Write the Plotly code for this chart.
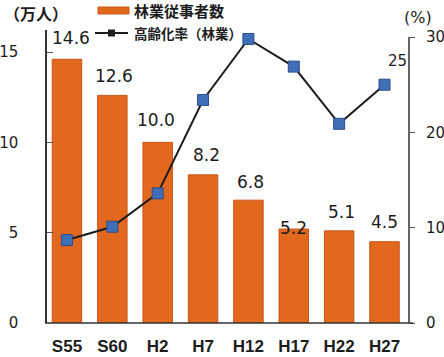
import plotly.graph_objects as go

# 林業従事者数（万人）と高齢化率（%）の推移
categories = ["S55", "S60", "H2", "H7", "H12", "H17", "H22", "H27"]
workers = [14.6, 12.6, 10.0, 8.2, 6.8, 5.2, 5.1, 4.5]          # 万人
worker_labels = ["14.6", "12.6", "10.0", "8.2", "6.8", "5.2", "5.1", "4.5"]
aging_rate = [8.7, 10.1, 13.6, 23.4, 29.8, 26.9, 20.9, 25.0]     # %
left_ticks = [0, 5, 10, 15]
right_ticks = [0, 10, 20, 30]

W, H = 444, 357
L, R, T, B = 47, 35, 30, 34
PW, PH = W - L - R, H - T - B


def px(x):
    return (x - L) / PW


def py(y):
    return (H - B - y) / PH


BAR = "#E2681E"
BLUE = "#3F6FB6"
INK = "#1c1c1c"
NUM_FONT = "DejaVu Sans"
JP_FONT = "Noto Sans CJK JP"

fig = go.Figure()
fig.add_trace(go.Bar(
    x=categories, y=workers, width=0.65,
    marker=dict(color=BAR, line=dict(color="#C9561A", width=1)),
    yaxis="y", showlegend=False, hoverinfo="skip",
))
fig.add_trace(go.Scatter(
    x=categories, y=aging_rate, yaxis="y2", mode="lines+markers",
    line=dict(color=INK, width=2),
    marker=dict(symbol="square", size=11, color=BLUE,
                line=dict(color="#2B4E8A", width=1)),
    showlegend=False, hoverinfo="skip",
))

# bar value labels
label_yshift = [21, 19, 22, 20, 18, 1, 19, 20]
label_xshift = [4, 2, -2, 3, 2, 0, 2, 0]
annotations = []
for cat, val, txt, dy, dx in zip(categories, workers, worker_labels, label_yshift, label_xshift):
    annotations.append(dict(
        x=cat, y=val, xref="x", yref="y", text=txt, showarrow=False,
        yanchor="middle", xanchor="center", yshift=dy, xshift=dx,
        font=dict(family=NUM_FONT, size=17, color=INK),
    ))

# last rate value label
annotations.append(dict(
    x=categories[-1], y=aging_rate[-1], xref="x", yref="y2",
    text=f"{aging_rate[-1]:.0f}", showarrow=False,
    xanchor="center", yanchor="middle", xshift=13, yshift=24,
    font=dict(family=NUM_FONT, size=15, color=INK),
))

# unit labels
annotations.append(dict(
    x=px(36), y=py(13), xref="paper", yref="paper", text="（万人）",
    showarrow=False, xanchor="center", yanchor="middle",
    font=dict(family=JP_FONT, size=16, color=INK, weight="bold"),
))
annotations.append(dict(
    x=px(418), y=py(17), xref="paper", yref="paper", text="(%)",
    showarrow=False, xanchor="center", yanchor="middle",
    font=dict(family=NUM_FONT, size=16, color=INK),
))

# legend entries
annotations.append(dict(
    x=px(132), y=py(11), xref="paper", yref="paper", text="林業従事者数",
    showarrow=False, xanchor="left", yanchor="middle",
    font=dict(family=JP_FONT, size=15, color=INK, weight="bold"),
))
annotations.append(dict(
    x=px(132), y=py(33), xref="paper", yref="paper", text="高齢化率（林業）",
    showarrow=False, xanchor="left", yanchor="middle",
    font=dict(family=JP_FONT, size=13.5, color=INK, weight="bold"),
))

shapes = [
    # legend swatch for bars
    dict(type="rect", xref="paper", yref="paper",
         x0=px(98), x1=px(129), y0=py(14), y1=py(7),
         fillcolor=BAR, line=dict(color="#C9561A", width=1)),
    # legend swatch for line
    dict(type="line", xref="paper", yref="paper",
         x0=px(95), x1=px(128), y0=py(33), y1=py(33),
         line=dict(color=INK, width=2)),
    dict(type="rect", xref="paper", yref="paper",
         x0=px(108), x1=px(115), y0=py(36.5), y1=py(29.5),
         fillcolor=INK, line=dict(color=INK, width=0)),
    # bottom axis line
    dict(type="line", xref="paper", yref="paper",
         x0=px(45), x1=px(413), y0=0, y1=0,
         line=dict(color="#333333", width=1.5)),
    # right axis line
    dict(type="line", xref="paper", yref="y2",
         x0=1, x1=1, y0=0, y1=30,
         line=dict(color="#333333", width=1.5)),
]

fig.update_layout(
    width=W, height=H,
    margin=dict(l=L, r=R, t=T, b=B, autoexpand=False),
    paper_bgcolor="white", plot_bgcolor="white",
    bargap=0.35,
    annotations=annotations, shapes=shapes,
    xaxis=dict(
        type="category", range=[-0.44, 7.54], automargin=False,
        showline=False, showgrid=False, zeroline=False, ticks="",
        tickfont=dict(family="Liberation Sans", size=17, color=INK, weight="bold"),
        ticklabelstandoff=11,
    ),
    yaxis=dict(
        range=[0, 16.22], tickvals=left_ticks, automargin=False,
        showline=True, linecolor="#333333", linewidth=1.5,
        ticks="inside", ticklen=6, tickcolor="#555555",
        showgrid=False, zeroline=False,
        tickfont=dict(family=NUM_FONT, size=15, color=INK),
        ticklabelstandoff=24,
    ),
    yaxis2=dict(
        range=[0, 30.74], tickvals=right_ticks, overlaying="y", side="right",
        automargin=False,
        showline=False, ticks="outside", ticklen=5, tickcolor="#555555",
        showgrid=False, zeroline=False,
        tickfont=dict(family=NUM_FONT, size=15, color=INK),
        ticklabelstandoff=8,
    ),
)

fig.write_html("out.html")
